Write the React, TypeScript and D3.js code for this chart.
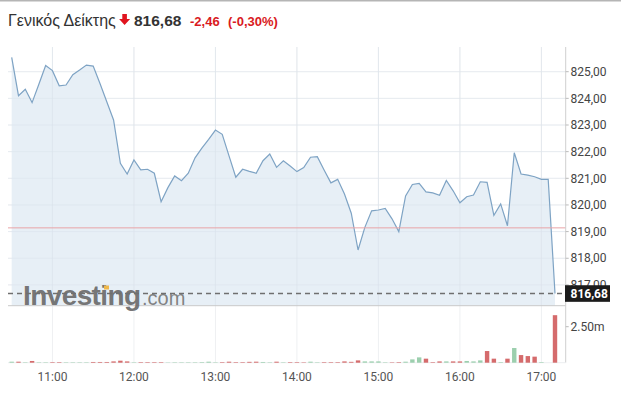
import React from "react";
import * as d3 from "d3";

const times = [
  "10:30","10:35","10:40","10:45","10:50","10:55","11:00","11:05","11:10","11:15",
  "11:20","11:25","11:30","11:35","11:40","11:45","11:50","11:55","12:00","12:05",
  "12:10","12:15","12:20","12:25","12:30","12:35","12:40","12:45","12:50","12:55",
  "13:00","13:05","13:10","13:15","13:20","13:25","13:30","13:35","13:40","13:45",
  "13:50","13:55","14:00","14:05","14:10","14:15","14:20","14:25","14:30","14:35",
  "14:40","14:45","14:50","14:55","15:00","15:05","15:10","15:15","15:20","15:25",
  "15:30","15:35","15:40","15:45","15:50","15:55","16:00","16:05","16:10","16:15",
  "16:20","16:25","16:30","16:35","16:40","16:45","16:50","16:55","17:00","17:05",
  "17:10",
];

const prices = [
  825.54, 824.10, 824.34, 823.84, 824.53, 825.23, 825.04, 824.47, 824.50, 824.89,
  825.06, 825.25, 825.21, 824.56, 823.87, 823.19, 821.56, 821.16, 821.69, 821.32,
  821.34, 821.19, 820.12, 820.65, 821.09, 820.91, 821.19, 821.77, 822.13, 822.46,
  822.81, 822.65, 821.84, 821.04, 821.34, 821.26, 821.19, 821.66, 821.91, 821.41,
  821.66, 821.46, 821.25, 821.40, 821.79, 821.81, 821.31, 820.83, 820.96, 820.41,
  819.69, 818.31, 819.16, 819.78, 819.81, 819.87, 819.48, 819.00, 820.34, 820.77,
  820.81, 820.49, 820.45, 820.36, 820.92, 820.53, 820.08, 820.31, 820.37, 820.87,
  820.85, 819.61, 820.04, 819.22, 821.96, 821.16, 821.12, 821.06, 820.96, 820.96,
  816.68,
];

// volume in millions
const volumes = [
  0.07, 0.07, 0.03, 0.12, 0.03, 0.03, 0.04, 0.04, 0.03, 0.03,
  0.03, 0.03, 0.05, 0.05, 0.05, 0.09, 0.14, 0.09, 0.03, 0.04,
  0.04, 0.04, 0.04, 0.02, 0.03, 0.03, 0.03, 0.03, 0.04, 0.07,
  0.03, 0.04, 0.07, 0.04, 0.04, 0.06, 0.07, 0.05, 0.03, 0.07,
  0.03, 0.04, 0.04, 0.03, 0.07, 0.03, 0.04, 0.04, 0.04, 0.09,
  0.06, 0.16, 0.09, 0.09, 0.09, 0.03, 0.03, 0.04, 0.07, 0.23,
  0.37, 0.28, 0.04, 0.09, 0.09, 0.09, 0.09, 0.12, 0.09, 0.16,
  0.81, 0.28, 0.04, 0.28, 1.02, 0.53, 0.46, 0.42, 0.04, 0.0,
  3.30,
];

// "u" = up (green), "d" = down (red)
const volumeDirection = [
  "u","d","u","d","u","u","d","d","u","u",
  "u","u","d","d","d","d","d","d","u","d",
  "d","d","d","u","u","u","u","u","u","u",
  "u","d","d","d","d","d","d","u","u","d",
  "u","d","d","d","u","u","d","d","d","d",
  "d","d","u","u","u","u","d","d","u","u",
  "u","d","d","d","u","d","d","u","u","u",
  "d","d","u","d","u","d","d","d","u","u",
  "d",
];

const priceTicks = [825, 824, 823, 822, 821, 820, 819, 818, 817];
const timeTicks = ["11:00", "12:00", "13:00", "14:00", "15:00", "16:00", "17:00"];
const volumeTicks = [2.5];
const previousClose = 819.14;
const lastPrice = 816.68;
const titleName = "Γενικός Δείκτης";
const changeAbs = "-2,46";
const changePct = "(-0,30%)";

const toMin = (t: string) => {
  const [h, m] = t.split(":").map(Number);
  return h * 60 + m;
};
const fmt = (v: number) => v.toFixed(2).replace(".", ",");

export default function App() {
  const W = 621;
  const H = 398;
  const plotLeft = 8;
  const plotRight = 565.7;
  const plotTop = 47;
  const priceBottom = 305.7;
  const volBottom = 362.7;

  const x = d3
    .scaleLinear()
    .domain([toMin(times[0]), toMin(times[times.length - 1])])
    .range([11.7, 555]);
  const y = d3.scaleLinear().domain([816, 825]).range([311.55, 71.7]);
  const yv = d3.scaleLinear().domain([0, 2.5]).range([volBottom, 326.7]);

  const pts = times.map((t, i) => ({ t: toMin(t), v: prices[i] }));
  const line = d3
    .line<{ t: number; v: number }>()
    .x((d) => x(d.t))
    .y((d) => y(d.v));
  const area = d3
    .area<{ t: number; v: number }>()
    .x((d) => x(d.t))
    .y0(priceBottom)
    .y1((d) => y(d.v));

  const axisFont = "Roboto, 'Liberation Sans', Arial, sans-serif";
  const titleFont = "'Liberation Sans', Arial, sans-serif";
  const barW = 4.4;

  return (
    <svg
      width={W}
      height={H}
      style={{ position: "absolute", left: 0, top: 0, background: "#fff" }}
    >
      <rect x={0} y={0} width={W} height={1.5} fill="#b5b5b5" />

      {/* title */}
      <text x={8} y={26} fontFamily={titleFont} fontSize={16} fill="#333">
        {titleName}
      </text>
      <path d="M122.3,14 h4.6 v5 h3.2 l-5.5,6 l-5.5,-6 h3.2 z" fill="#e0141e" />
      <text x={134} y={26} fontFamily={titleFont} fontSize={15.5} fontWeight="bold" fill="#333">
        {fmt(lastPrice)}
      </text>
      <text x={190} y={26} fontFamily={titleFont} fontSize={13} fontWeight="bold" fill="#d91a22">
        {changeAbs}
      </text>
      <text x={228} y={26} fontFamily={titleFont} fontSize={13} fontWeight="bold" fill="#d91a22">
        {changePct}
      </text>

      {/* horizontal grid */}
      {priceTicks.map((v) => (
        <line key={"hg" + v} x1={plotLeft} x2={plotRight} y1={y(v)} y2={y(v)} stroke="#f0f1f3" />
      ))}
      {/* vertical grid */}
      {timeTicks.map((t) => (
        <line key={"vg" + t} x1={x(toMin(t))} x2={x(toMin(t))} y1={plotTop} y2={volBottom} stroke="#eef0f2" />
      ))}

      {/* area + line */}
      <path d={area(pts) || ""} fill="#e3ecf5" fillOpacity={0.85} />
      {timeTicks.map((t) => (
        <line key={"vg2" + t} x1={x(toMin(t))} x2={x(toMin(t))} y1={plotTop} y2={priceBottom} stroke="#d9e2ea" strokeOpacity={0.5} />
      ))}
      {priceTicks.map((v) => (
        <line key={"hg2" + v} x1={plotLeft} x2={plotRight} y1={y(v)} y2={y(v)} stroke="#d9e2ea" strokeOpacity={0.4} />
      ))}
      <path d={line(pts) || ""} fill="none" stroke="#7ea3c4" strokeWidth={1.2} />

      {/* previous close */}
      <line x1={plotLeft} x2={plotRight} y1={y(previousClose)} y2={y(previousClose)} stroke="#e9a3a6" strokeWidth={1} />

      {/* pane bottom */}
      <line x1={plotLeft} x2={plotRight} y1={priceBottom} y2={priceBottom} stroke="#c9c9c9" strokeWidth={1} />

      {/* watermark */}
      <text x={23} y={305} fontFamily={titleFont} fontSize={28} fontWeight="bold" letterSpacing={-0.6} fill="#6a6a6a" fillOpacity={0.92}>
        Investing
      </text>
      <text x={142} y={305} fontFamily={titleFont} fontSize={20} fill="#777" fillOpacity={0.92}>
        .com
      </text>
      <rect x={104} y={285.5} width={5} height={4} fill="#f0b84a" />

      {/* last price dashed line */}
      <line x1={plotLeft} x2={plotRight} y1={y(lastPrice)} y2={y(lastPrice)} stroke="#6f6f6f" strokeWidth={1.5} strokeDasharray="5,4" />

      {/* right axis */}
      <line x1={plotRight} x2={plotRight} y1={plotTop} y2={volBottom} stroke="#cfcfcf" />
      {priceTicks.map((v) => (
        <g key={"pt" + v}>
          <line x1={plotRight} x2={plotRight + 3} y1={y(v)} y2={y(v)} stroke="#bbb" />
          <text x={570.5} y={y(v)} dy="0.35em" fontFamily={axisFont} fontSize={12} fill="#444">
            {fmt(v)}
          </text>
        </g>
      ))}
      <rect x={565} y={y(lastPrice) - 8.2} width={45} height={16.6} fill="#1b1b1b" />
      <text x={570.5} y={y(lastPrice)} dy="0.36em" fontFamily={axisFont} fontSize={12} fontWeight="bold" fill="#fff">
        {fmt(lastPrice)}
      </text>

      {/* volume */}
      <line x1={plotLeft} x2={plotRight} y1={volBottom} y2={volBottom} stroke="#eceef0" />
      {volumes.map((v, i) => {
        const cx = x(toMin(times[i]));
        const h = volBottom - yv(v);
        return (
          <rect
            key={"vb" + i}
            x={cx - barW / 2}
            y={yv(v)}
            width={barW}
            height={Math.max(h, 0)}
            fill={volumeDirection[i] === "u" ? "#9ccfae" : "#d56b6c"}
          />
        );
      })}
      {volumeTicks.map((v) => (
        <g key={"vt" + v}>
          <line x1={plotRight} x2={plotRight + 3} y1={yv(v)} y2={yv(v)} stroke="#bbb" />
          <text x={570.5} y={yv(v)} dy="0.35em" fontFamily={axisFont} fontSize={12} fill="#444">
            {v.toFixed(2) + "m"}
          </text>
        </g>
      ))}

      {/* x axis labels */}
      {timeTicks.map((t) => (
        <text key={"xt" + t} x={x(toMin(t))} y={377} dy="0.35em" textAnchor="middle" fontFamily={axisFont} fontSize={12} fill="#555">
          {t}
        </text>
      ))}
    </svg>
  );
}
